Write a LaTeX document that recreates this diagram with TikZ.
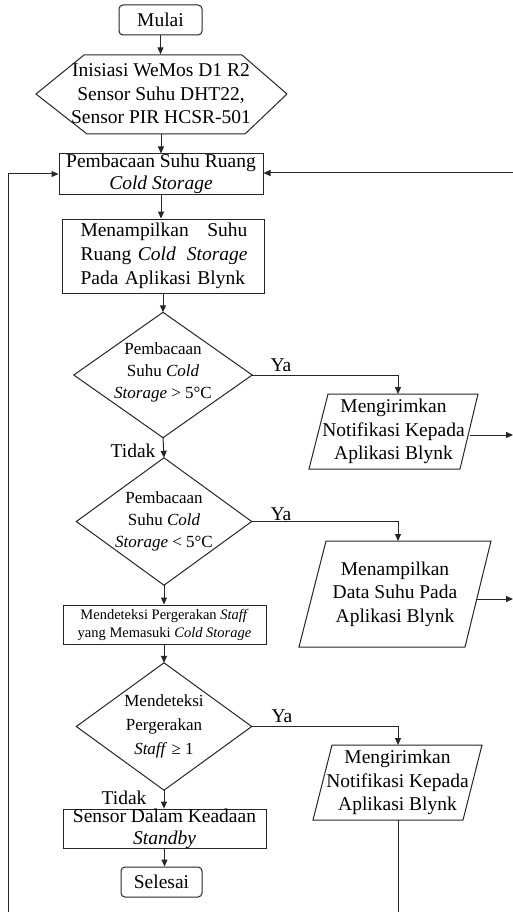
\documentclass[tikz,border=0pt]{standalone}
\usepackage{fontspec}
\setmainfont{Liberation Serif}
\usetikzlibrary{arrows.meta}
\tikzset{
  ln/.style={draw=black!85, line width=1pt},
  arr/.style={ln, -{Triangle[length=7pt,width=6pt]}},
  term/.style={ln, rounded corners=4pt, minimum height=30pt, inner sep=0pt, font=\fontsize{19.5}{23}\selectfont},
  proc/.style={ln, inner sep=0pt, align=center, font=\fontsize{19.5}{22}\selectfont},
  dec/.style={inner sep=0pt, align=center, font=\fontsize{17}{22}\selectfont},
  txt/.style={inner sep=0pt, align=center, font=\fontsize{19.5}{23.5}\selectfont},
  lbl/.style={inner sep=0pt, font=\fontsize{19.5}{23}\selectfont},
}
\newcommand{\diamondoutline}[1]{\draw[ln] (#1.north) -- (#1.east) -- (#1.south) -- (#1.west) -- cycle;}
\begin{document}
\begin{tikzpicture}[x=1pt,y=-1pt]
\useasboundingbox[fill=white] (0,0) rectangle (513,912);

% terminals
\node[term, minimum width=83pt] (start) at (160.5,20) {Mulai};
% initialisation (hexagon)
\draw[ln] (36,94) -- (84,55) -- (242,55) -- (287,94) -- (245,134) -- (87,134) -- cycle;
\node[txt, minimum width=250pt, minimum height=79pt] (init) at (161,94) {Inisiasi WeMos D1 R2\\Sensor Suhu DHT22,\\Sensor PIR HCSR-501};

\node[proc, minimum width=204pt, minimum height=40pt] (r1) at (161,174) {Pembacaan Suhu Ruang\\\textit{Cold Storage}};
\node[ln, inner sep=0pt, minimum width=202pt, minimum height=74pt] (r2) at (163,256) {};
\node[inner sep=0pt, text width=167pt, align=left, font=\fontsize{19.5}{24}\selectfont] (r2t) at (164,256)
  {Menampilkan\hfill Suhu\\Ruang \textit{Cold}\hfill\textit{Storage}\\Pada Aplikasi Blynk};

\node[dec, minimum width=178pt, minimum height=125pt] (d1) at (163,375) {};
\node[dec] (d1t) at (163,372) {Pembacaan\\Suhu \textit{Cold}\\\textit{Storage} > 5°C};
\diamondoutline{d1}

% parallelogram 1
\draw[ln] (328,394) -- (478,394) -- (460,469) -- (309,469) -- cycle;
\node[txt, minimum width=150pt, minimum height=75pt] (p1) at (393.5,431.5) {Mengirimkan\\Notifikasi Kepada\\Aplikasi Blynk};

\node[dec, minimum width=175pt, minimum height=127pt] (d2) at (164,521.5) {Pembacaan\\Suhu \textit{Cold}\\\textit{Storage} < 5°C};
\diamondoutline{d2}

% parallelogram 2
\draw[ln] (326,541) -- (491,541) -- (465,647) -- (299,647) -- cycle;
\node[txt, minimum width=165pt, minimum height=106pt] (p2) at (395,594) {Menampilkan\\Data Suhu Pada\\Aplikasi Blynk};

\node[proc, minimum width=203pt, minimum height=39pt, font=\fontsize{14.5}{18}\selectfont] (r3) at (164.5,624.5) {Mendeteksi Pergerakan \textit{Staff}\\yang Memasuki \textit{Cold Storage}};

\node[dec, minimum width=175pt, minimum height=127pt, font=\fontsize{17}{24}\selectfont] (d3) at (164,726.5) {Mendeteksi\\Pergerakan\\\textit{Staff} ≥ 1};
\diamondoutline{d3}

% parallelogram 3
\draw[ln] (332,745) -- (482,745) -- (463,820) -- (313,820) -- cycle;
\node[txt, minimum width=150pt, minimum height=75pt] (p3) at (397.5,782.5) {Mengirimkan\\Notifikasi Kepada\\Aplikasi Blynk};

\node[proc, minimum width=203pt, minimum height=38pt] (r4) at (164.5,829) {Sensor Dalam Keadaan\\\textit{Standby}};
\node[term, minimum width=81pt] (stop) at (161.5,882) {Selesai};

% vertical flow
\draw[arr] (start.south) -- (start.south |- init.north);
\draw[arr] (init.south) -- (r1.north);
\draw[arr] (r1.south) -- (r1.south |- r2.north);
\draw[arr] (d1.north |- r2.south) -- (d1.north);
\draw[arr] (d1.south) -- (d2.north);
\draw[arr] (d2.south) -- (d2.south |- r3.north);
\draw[arr] (d3.north |- r3.south) -- (d3.north);
\draw[arr] (d3.south) -- (d3.south |- r4.north);
\draw[arr] (r4.south) -- (r4.south |- stop.north);

% Ya branches
\coordinate (p1t) at (398,394);
\coordinate (p2t) at (398,541);
\coordinate (p3t) at (398,745);
\draw[arr] (d1.east) -- (d1.east -| p1t) -- (p1t);
\draw[arr] (d2.east) -- (d2.east -| p2t) -- (p2t);
\draw[arr] (d3.east) -- (d3.east -| p3t) -- (p3t);
\node[lbl] (ya1) at (281,365) {Ya};
\node[lbl] (ya2) at (281,514) {Ya};
\node[lbl] (ya3) at (282,716) {Ya};
\node[lbl] (t1) at (133,451) {Tidak};
\node[lbl] (t2) at (124,798) {Tidak};

% outputs to the right edge
\coordinate (p1r) at (469.5,435);
\coordinate (p2r) at (476.5,599);
\coordinate (p3b) at (398,820);
\coordinate (o1) at (513,435);
\coordinate (o2) at (513,599);
\coordinate (b3) at (398,912);
\draw[arr] (p1r) -- (o1);
\draw[arr] (p2r) -- (o2);
\draw[ln] (p3b) -- (b3);

% feedback lines
\coordinate (lb) at (8,912);
\coordinate (rt) at (513,173);
\draw[arr] (lb) -- (lb |- r1.west) -- (r1.west);
\draw[arr] (rt) -- (r1.east |- rt);
\end{tikzpicture}
\end{document}
